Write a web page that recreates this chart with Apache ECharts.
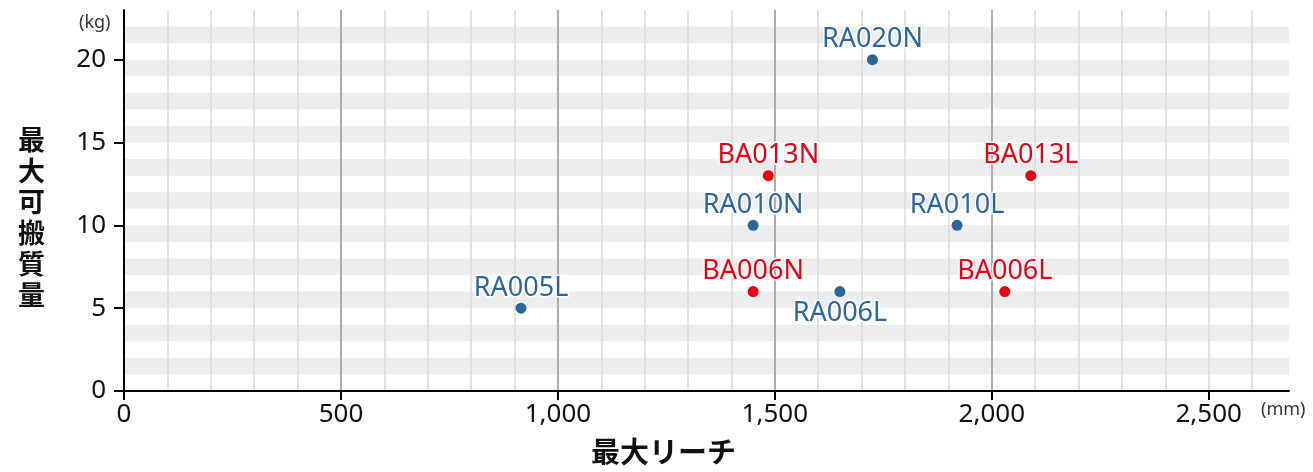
<!DOCTYPE html>
<html>
<head>
<meta charset="utf-8">
<script src="https://cdn.jsdelivr.net/npm/echarts@6/dist/echarts.min.js"></script>
<style>
  html, body { margin: 0; padding: 0; background: #fff; }
  #chart { width: 1313px; height: 472px; }
</style>
</head>
<body>
<div id="chart"></div>
<script>
// RA series (blue)
const raNames = ["RA005L", "RA006L", "RA010N", "RA010L", "RA020N"];
const raReach = [915, 1650, 1450, 1920, 1725];
const raPayload = [5, 6, 10, 10, 20];

// BA series (red)
const baNames = ["BA006N", "BA006L", "BA013N", "BA013L"];
const baReach = [1450, 2030, 1485, 2090];
const baPayload = [6, 6, 13, 13];

const xTicks = [0, 500, 1000, 1500, 2000, 2500];
const yTicks = [0, 5, 10, 15, 20];

const BLUE = "#2c6599";
const RED = "#e60014";
const FONT = "'Noto Sans', 'Noto Sans CJK JP', sans-serif";

// labels that sit under their dot
const belowLabels = ["RA006L"];

const toData = (names, xs, ys) =>
  names.map((n, i) => {
    const item = { name: n, value: [xs[i], ys[i]] };
    if (belowLabels.includes(n)) item.label = { position: "bottom", distance: 3 };
    return item;
  });

const chart = echarts.init(document.getElementById("chart"));

const labelStyle = (color) => ({
  show: true,
  position: "top",
  distance: 1,
  formatter: "{b}",
  color: color,
  fontFamily: FONT,
  fontSize: 27,
  textBorderColor: "#fff",
  textBorderWidth: 3,
});

chart.setOption({
  animation: false,
  grid: { left: 124, right: 24, top: 10, bottom: 81 },
  xAxis: [
    {
      type: "value",
      min: 0,
      max: 2685,
      interval: 500,
      z: 2,
      axisLine: { show: true, lineStyle: { color: "#000", width: 2 } },
      axisTick: { show: true, length: 9, customValues: xTicks, lineStyle: { color: "#000", width: 2 } },
      axisLabel: { customValues: xTicks, color: "#111", fontSize: 26, fontFamily: FONT, margin: 11 },
      splitLine: { show: true, showMinLine: false, showMaxLine: false, lineStyle: { color: "#ababab", width: 2 } },
    },
    {
      // minor vertical grid every 100 mm
      type: "value",
      min: 0,
      max: 2685,
      interval: 100,
      z: 1,
      position: "bottom",
      axisLine: { show: false },
      axisTick: { show: false },
      axisLabel: { show: false },
      splitLine: { show: true, showMinLine: false, showMaxLine: false, lineStyle: { color: "#dadada", width: 1.5 } },
    },
  ],
  yAxis: [
    {
      type: "value",
      min: 0,
      max: 23,
      interval: 5,
      z: 3,
      axisLine: { show: true, lineStyle: { color: "#000", width: 2 } },
      axisTick: { show: true, length: 10, customValues: yTicks, lineStyle: { color: "#000", width: 2 } },
      axisLabel: { customValues: yTicks, color: "#111", fontSize: 26, fontFamily: FONT, margin: 18 },
      splitLine: { show: false },
    },
    {
      // horizontal stripes every 1 kg
      type: "value",
      min: 0,
      max: 23,
      interval: 1,
      z: 0,
      position: "left",
      axisLine: { show: false },
      axisTick: { show: false },
      axisLabel: { show: false },
      splitLine: { show: false },
      splitArea: { show: true, areaStyle: { color: ["rgba(255,255,255,0)", "#ededed"] } },
    },
  ],
  graphic: [
    {
      type: "text",
      left: 79,
      top: 14,
      style: { text: "(kg)", fill: "#333", font: "18px " + FONT },
    },
    {
      type: "text",
      left: 1261,
      top: 401,
      style: { text: "(mm)", fill: "#333", font: "18px " + FONT },
    },
    {
      type: "text",
      left: 18,
      top: 124,
      style: {
        text: "最\n大\n可\n搬\n質\n量",
        fill: "#111",
        font: "bold 27px 'Noto Sans CJK JP', sans-serif",
        lineHeight: 31,
      },
    },
    {
      type: "text",
      left: 591,
      top: 437,
      style: {
        text: "最大リーチ",
        fill: "#111",
        font: "bold 29px 'Noto Sans CJK JP', sans-serif",
      },
    },
  ],
  series: [
    {
      name: "RA",
      type: "scatter",
      symbolSize: 11,
      z: 5,
      itemStyle: { color: BLUE, opacity: 1 },
      label: labelStyle(BLUE),
      data: toData(raNames, raReach, raPayload),
    },
    {
      name: "BA",
      type: "scatter",
      symbolSize: 11,
      z: 5,
      itemStyle: { color: RED, opacity: 1 },
      label: labelStyle(RED),
      data: toData(baNames, baReach, baPayload),
    },
  ],
});
</script>
</body>
</html>
